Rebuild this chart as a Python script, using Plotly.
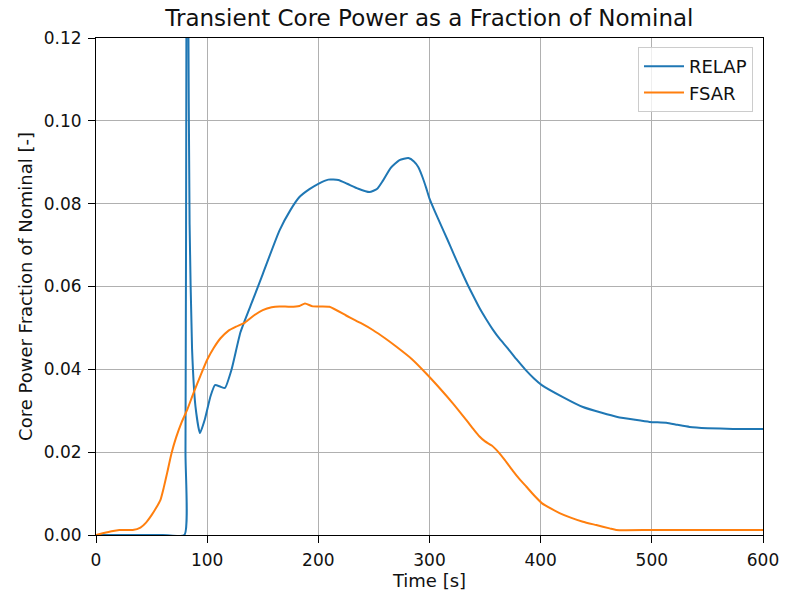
import plotly.graph_objects as go

relap_t = [0, 20, 40, 60, 79.5, 80.5, 81.3, 82.2, 83.0, 84.2, 86.4, 89.5, 93.5, 98, 103, 107, 112, 116, 122, 130, 141, 150,
           165, 175, 183, 192, 200, 209, 218, 226, 236, 246, 253, 258, 265, 273, 281, 286, 290, 294, 297, 300, 305, 310,
           316, 322, 328, 334, 340, 345, 351, 357, 363, 370, 378, 386, 394, 401, 420, 438, 455, 469, 485, 498, 513,
           523, 534, 550, 573, 590, 600]
relap_v = [0, 0, 0, 0, 0, 0.02, 0.12, 0.5, 0.13, 0.075, 0.045, 0.031, 0.0246, 0.028, 0.0335, 0.0362, 0.0358, 0.0355, 0.040, 0.049, 0.0567, 0.063,
           0.0735, 0.0785, 0.0816, 0.0835, 0.0848, 0.0858, 0.0857, 0.0848, 0.0836, 0.0828, 0.0836, 0.0855, 0.0886, 0.0905, 0.0910, 0.0902, 0.0888, 0.0862, 0.0838, 0.0812, 0.0780, 0.0750,
           0.0714, 0.0677, 0.0641, 0.0606, 0.0574, 0.0548, 0.0521, 0.0496, 0.0474, 0.0452, 0.0425, 0.0400, 0.0378, 0.0362, 0.0333, 0.0309, 0.0295, 0.0285, 0.0278, 0.0273, 0.0271,
           0.0266, 0.0261, 0.0258, 0.0256, 0.0256, 0.0256]

fsar_t = [0, 6, 14, 21, 28, 33, 40, 45, 50, 54, 58, 61, 64, 68, 72, 77, 82, 88, 94, 100, 106, 112, 119, 126, 134, 142, 150, 158, 165,
          175, 183, 188, 195, 210, 225, 238, 249, 260, 270, 284, 297, 310, 321, 333, 340, 345, 350, 356, 362, 368, 375, 381, 387, 394, 401,
          409, 417, 427, 438, 450, 462, 468, 500, 550, 600]
fsar_v = [0, 0.0004, 0.0009, 0.0012, 0.0012, 0.0012, 0.0018, 0.0030, 0.0048, 0.0065, 0.0085, 0.0115, 0.0150, 0.0198, 0.0235, 0.0272, 0.0302, 0.0345, 0.0385, 0.0423, 0.0452, 0.0475, 0.0493, 0.0503, 0.0513, 0.0530, 0.0543, 0.0550, 0.0552,
          0.0551, 0.0553, 0.0559, 0.0552, 0.0551, 0.0530, 0.0512, 0.0495, 0.0475, 0.0455, 0.0425, 0.0390, 0.0352, 0.0318, 0.0278, 0.0254, 0.0238, 0.0226, 0.0216, 0.0200, 0.0180, 0.0155, 0.0135, 0.0117, 0.0096, 0.0077,
          0.0064, 0.0053, 0.0042, 0.0032, 0.0024, 0.0016, 0.0012, 0.0012, 0.0012, 0.0012]

x_ticks = [0, 100, 200, 300, 400, 500, 600]
y_ticks = [0.00, 0.02, 0.04, 0.06, 0.08, 0.10, 0.12]

fig = go.Figure()
fig.add_trace(go.Scatter(x=relap_t, y=relap_v, mode="lines", name="RELAP",
                         line=dict(color="#1f77b4", width=2, shape="spline", smoothing=0.5)))
fig.add_trace(go.Scatter(x=fsar_t, y=fsar_v, mode="lines", name="FSAR",
                         line=dict(color="#ff7f0e", width=2, shape="spline", smoothing=0.5)))

axis_common = dict(showline=True, linecolor="black", linewidth=1, mirror=True,
                   ticks="outside", ticklen=7, tickcolor="black", ticklabelstandoff=3,
                   showgrid=True, gridcolor="#b0b0b0", gridwidth=1, zeroline=False, automargin=False,
                   tickfont=dict(family="DejaVu Sans", size=17, color="#111111"))

fig.update_xaxes(range=[0, 600], tickvals=x_ticks, ticktext=[str(v) for v in x_ticks],
                 title=dict(text="Time [s]", font=dict(family="DejaVu Sans", size=18, color="#111111"), standoff=4),
                 **axis_common)
fig.update_yaxes(range=[0, 0.12], tickvals=y_ticks, ticktext=[f"{v:.2f}" for v in y_ticks],
                 title=dict(text="Core Power Fraction of Nominal [-]", font=dict(family="DejaVu Sans", size=18, color="#111111"), standoff=6),
                 **axis_common)

fig.update_layout(
    width=785, height=602,
    margin=dict(l=96, r=22, t=38, b=67, autoexpand=False),
    paper_bgcolor="white", plot_bgcolor="white",
    title=dict(text="Transient Core Power as a Fraction of Nominal", x=0.547, xanchor="center",
               y=0.970, yanchor="middle", font=dict(family="DejaVu Sans", size=23, color="#111111")),
    legend=dict(x=0.985, y=0.982, xanchor="right", yanchor="top", bgcolor="rgba(255,255,255,0.8)",
                bordercolor="#cccccc", borderwidth=1, font=dict(family="DejaVu Sans", size=18, color="#111111"),
                itemwidth=40),
    showlegend=True,
)

fig.write_html("out.html")
